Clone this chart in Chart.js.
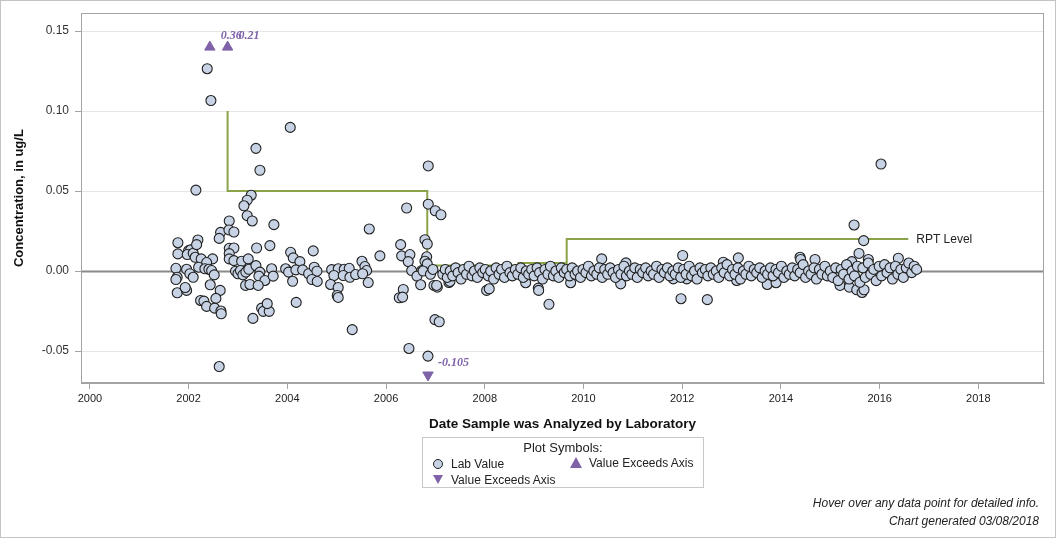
<!DOCTYPE html>
<html>
<head>
<meta charset="utf-8">
<script src="https://cdn.jsdelivr.net/npm/chart.js@4.4.1/dist/chart.umd.min.js"></script>
<style>
  html, body { margin: 0; padding: 0; background: #fff; }
  #wrap { position: relative; width: 1056px; height: 538px; overflow: hidden; font-family: "Liberation Sans", Arial, sans-serif; color: #222; }
  #chart { position: absolute; left: 0; top: 0; }
  .frame { position: absolute; left: 0; top: 0; width: 1056px; height: 538px; box-sizing: border-box; border: 1px solid #c4c4c4; pointer-events: none; }
  .legend { position: absolute; left: 422px; top: 437px; width: 282px; height: 51px; box-sizing: border-box; border: 1px solid #c8c8c8; font-size: 12px; }
  .legend .ttl { position: absolute; left: 0; right: 0; top: 2px; text-align: center; font-size: 13px; }
  .legend .item { position: absolute; height: 14px; line-height: 14px; white-space: nowrap; }
  .circ { position: absolute; left: -18px; top: 2px; width: 8px; height: 8px; border-radius: 50%; background: #c7d3e4; border: 1px solid #1f1f1f; }
  .tri-up { position: absolute; left: -19px; top: 1px; width: 0; height: 0; border-left: 6px solid transparent; border-right: 6px solid transparent; border-bottom: 11px solid #7f62a8; }
  .tri-dn { position: absolute; left: -18px; top: 2px; width: 0; height: 0; border-left: 5px solid transparent; border-right: 5px solid transparent; border-top: 9px solid #7f62a8; }
  .foot { position: absolute; right: 17px; top: 494px; text-align: right; font-style: italic; font-size: 12px; line-height: 18px; }
</style>
</head>
<body>
<div id="wrap">
  <canvas id="chart" width="1056" height="538"></canvas>
  <div class="legend">
    <div class="ttl">Plot Symbols:</div>
    <div class="item" style="left:28px;top:19px"><span class="circ"></span>Lab Value</div>
    <div class="item" style="left:166px;top:18px"><span class="tri-up"></span>Value Exceeds Axis</div>
    <div class="item" style="left:28px;top:35px"><span class="tri-dn"></span>Value Exceeds Axis</div>
  </div>
  <div class="foot">Hover over any data point for detailed info.<br>Chart generated 03/08/2018</div>
  <div class="frame"></div>
</div>
<script>
// lab values 2001-2006, [date, ug/L]
var labEarly = [
  [2001.783, 0.0177], [2001.783, 0.0107], [2001.743, 0.0017], [2001.769, -0.0039], [2001.743, -0.0053],
  [2001.769, -0.0136], [2001.959, -0.0121], [2001.931, -0.0103], [2002.000, 0.0128], [2002.040, 0.0132],
  [2001.972, 0.0103], [2002.093, 0.0111], [2002.134, 0.0086], [2002.255, 0.0076], [2002.486, 0.0076],
  [2002.365, 0.0053], [2002.203, 0.0024], [2002.330, 0.0014], [2002.411, 0.0011], [2002.466, 0.0003],
  [2002.519, -0.0024], [2001.959, 0.0011], [2002.026, -0.0017], [2002.093, -0.0039], [2002.438, -0.0086],
  [2002.640, -0.0121], [2002.553, -0.0171], [2002.243, -0.0184], [2002.310, -0.0188], [2002.365, -0.0221],
  [2002.527, -0.0232], [2002.655, -0.0250], [2002.661, -0.0267], [2002.620, -0.0597], [2002.148, 0.0506],
  [2002.188, 0.0194], [2002.162, 0.0165], [2002.377, 0.1265], [2002.452, 0.1066], [2002.648, 0.0242],
  [2002.620, 0.0204], [2002.823, 0.0313], [2002.817, 0.0257], [2002.918, 0.0244], [2002.823, 0.0142],
  [2002.918, 0.0144], [2002.823, 0.0109], [2002.823, 0.0076], [2002.918, 0.0065], [2003.074, 0.0061],
  [2003.208, 0.0076], [2002.950, -0.0001], [2003.000, -0.0017], [2003.050, 0.0003], [2003.100, -0.0024],
  [2003.160, -0.0007], [2003.220, 0.0011], [2003.268, 0.0474], [2003.187, 0.0443], [2003.121, 0.0408],
  [2003.187, 0.0346], [2003.289, 0.0313], [2003.445, 0.0630], [2003.364, 0.0767], [2003.728, 0.0290],
  [2003.378, 0.0144], [2003.647, 0.0159], [2003.364, 0.0034], [2003.445, -0.0007], [2003.424, -0.0032],
  [2003.546, -0.0059], [2003.682, 0.0014], [2003.714, -0.0032], [2003.155, -0.0090], [2003.242, -0.0084],
  [2003.410, -0.0090], [2003.303, -0.0296], [2003.479, -0.0232], [2003.512, -0.0252], [2003.633, -0.0252],
  [2003.593, -0.0204], [2003.966, 0.0014], [2004.067, 0.0117], [2004.120, 0.0082], [2004.255, 0.0059],
  [2004.026, -0.0007], [2004.174, 0.0007], [2004.107, -0.0064], [2004.180, -0.0196], [2004.310, 0.0007],
  [2004.432, -0.0017], [2004.525, 0.0126], [2004.545, 0.0024], [2004.600, -0.0001], [2004.498, -0.0053],
  [2004.606, -0.0065], [2004.059, 0.0898], [2004.898, 0.0009], [2005.031, 0.0014], [2005.153, 0.0011],
  [2005.254, 0.0017], [2004.944, -0.0028], [2005.133, -0.0028], [2005.268, -0.0039], [2005.384, -0.0022],
  [2004.877, -0.0084], [2005.031, -0.0103], [2005.011, -0.0153], [2005.031, -0.0165], [2005.315, -0.0366],
  [2005.660, 0.0263], [2005.512, 0.0061], [2005.572, 0.0028], [2005.607, 0.0003], [2005.526, -0.0017],
  [2005.639, -0.0072], [2005.876, 0.0095]
];

// lab values 2006-2007
var labMid = [
  [2006.296, 0.0165], [2006.316, 0.0095], [2006.484, 0.0103], [2006.450, 0.0059], [2006.519, 0.0003],
  [2006.721, 0.0003], [2006.626, -0.0032], [2006.701, -0.0086], [2006.349, -0.0115], [2006.268, -0.0167],
  [2006.336, -0.0163], [2006.464, -0.0484], [2006.849, -0.0532], [2006.417, 0.0394], [2006.855, 0.0657],
  [2006.855, 0.0418], [2006.997, 0.0377], [2007.112, 0.0352], [2006.788, 0.0196], [2006.835, 0.0169],
  [2006.823, 0.0089], [2006.788, 0.0061], [2006.835, 0.0045], [2006.971, -0.0090], [2007.038, -0.0101],
  [2007.275, -0.0072], [2006.991, -0.0304], [2007.078, -0.0317], [2006.750, 0.0000], [2006.900, -0.0020],
  [2006.950, 0.0010]
];

// scattered lab values 2007-2016
var labOutliers = [
  [2007.025, -0.0090], [2007.295, -0.0065], [2008.038, -0.0121], [2008.091, -0.0111], [2008.829, -0.0073],
  [2009.084, -0.0107], [2009.092, -0.0121], [2009.301, -0.0208], [2009.740, -0.0073], [2010.369, 0.0076],
  [2010.754, -0.0080], [2010.861, 0.0051], [2011.820, -0.0049], [2011.976, -0.0173], [2012.010, 0.0097],
  [2012.091, -0.0049], [2012.509, -0.0179], [2012.833, 0.0055], [2013.104, -0.0059], [2013.137, 0.0082],
  [2013.724, -0.0084], [2013.901, -0.0073], [2014.387, 0.0086], [2014.400, 0.0072], [2014.691, 0.0072],
  [2015.198, -0.0090], [2015.386, -0.0101], [2015.435, 0.0059], [2015.482, 0.0288], [2015.536, -0.0117],
  [2015.582, 0.0110], [2015.644, -0.0134], [2015.677, 0.0190], [2015.684, -0.0117], [2015.771, 0.0072],
  [2016.028, 0.0669], [2016.379, 0.0080]
];

// dense band of lab values near zero, 2007-2016
var labBand = [
  [2007.15, -0.002], [2007.20, 0.001], [2007.24, -0.004], [2007.30, 0.000], [2007.35, -0.003],
  [2007.41, 0.002], [2007.46, -0.001], [2007.52, -0.005], [2007.57, 0.001], [2007.63, -0.002],
  [2007.68, 0.003], [2007.74, -0.003], [2007.79, 0.000], [2007.85, -0.004], [2007.90, 0.002],
  [2007.96, -0.001], [2008.01, 0.001], [2008.07, -0.003], [2008.12, 0.000], [2008.18, -0.005],
  [2008.23, 0.002], [2008.29, -0.002], [2008.34, 0.001], [2008.40, -0.004], [2008.45, 0.003],
  [2008.51, -0.001], [2008.56, -0.003], [2008.62, 0.001], [2008.67, -0.002], [2008.73, 0.002],
  [2008.78, -0.004], [2008.84, 0.000], [2008.89, -0.002], [2008.95, 0.001], [2009.00, -0.003],
  [2009.06, 0.002], [2009.11, -0.001], [2009.17, -0.005], [2009.22, 0.001], [2009.28, -0.002],
  [2009.33, 0.003], [2009.39, -0.003], [2009.44, 0.000], [2009.50, -0.004], [2009.55, 0.002],
  [2009.61, -0.001], [2009.66, 0.001], [2009.72, -0.003], [2009.77, 0.002], [2009.83, -0.002],
  [2009.88, 0.000], [2009.94, -0.004], [2009.99, 0.001], [2010.05, -0.001], [2010.10, 0.003],
  [2010.16, -0.003], [2010.21, 0.000], [2010.27, -0.002], [2010.32, 0.002], [2010.38, -0.004],
  [2010.43, 0.001], [2010.49, -0.002], [2010.54, 0.002], [2010.60, -0.001], [2010.65, -0.004],
  [2010.71, 0.001], [2010.76, -0.002], [2010.82, 0.003], [2010.87, -0.003], [2010.93, 0.000],
  [2010.98, -0.002], [2011.04, 0.002], [2011.09, -0.004], [2011.15, 0.001], [2011.20, -0.001],
  [2011.26, 0.002], [2011.31, -0.003], [2011.37, 0.000], [2011.42, -0.002], [2011.48, 0.003],
  [2011.53, -0.004], [2011.59, 0.001], [2011.64, -0.001], [2011.70, 0.002], [2011.75, -0.003],
  [2011.81, 0.000], [2011.86, -0.002], [2011.92, 0.002], [2011.97, -0.004], [2012.03, 0.001],
  [2012.08, -0.002], [2012.14, 0.003], [2012.19, -0.003], [2012.25, 0.000], [2012.30, -0.005],
  [2012.36, 0.002], [2012.41, -0.001], [2012.47, 0.001], [2012.52, -0.003], [2012.58, 0.002],
  [2012.63, -0.002], [2012.69, 0.000], [2012.74, -0.004], [2012.80, 0.002], [2012.85, -0.001],
  [2012.91, 0.004], [2012.96, -0.003], [2013.02, 0.001], [2013.07, -0.002], [2013.13, 0.002],
  [2013.18, -0.005], [2013.24, 0.000], [2013.29, -0.002], [2013.35, 0.003], [2013.40, -0.003],
  [2013.46, 0.001], [2013.51, -0.001], [2013.57, 0.002], [2013.62, -0.004], [2013.68, 0.000],
  [2013.73, -0.002], [2013.79, 0.002], [2013.84, -0.003], [2013.90, 0.001], [2013.95, -0.001],
  [2014.01, 0.003], [2014.06, -0.004], [2014.12, 0.000], [2014.17, -0.002], [2014.23, 0.002],
  [2014.28, -0.003], [2014.34, 0.001], [2014.39, -0.001], [2014.45, 0.004], [2014.50, -0.004],
  [2014.56, 0.000], [2014.61, -0.002], [2014.67, 0.002], [2014.72, -0.005], [2014.78, 0.001],
  [2014.83, -0.002], [2014.89, 0.003], [2014.94, -0.003], [2015.00, 0.000], [2015.05, -0.004],
  [2015.11, 0.002], [2015.16, -0.006], [2015.22, 0.001], [2015.27, -0.002], [2015.33, 0.004],
  [2015.38, -0.005], [2015.44, 0.000], [2015.49, -0.003], [2015.55, 0.003], [2015.60, -0.007],
  [2015.66, 0.002], [2015.71, -0.004], [2015.77, 0.005], [2015.82, -0.002], [2015.88, 0.001],
  [2015.93, -0.006], [2015.99, 0.003], [2016.04, -0.003], [2016.10, 0.004], [2016.15, -0.001],
  [2016.21, 0.002], [2016.26, -0.005], [2016.32, 0.003], [2016.37, -0.002], [2016.43, 0.001],
  [2016.48, -0.004], [2016.54, 0.002], [2016.59, 0.005], [2016.65, -0.001], [2016.70, 0.003],
  [2016.75, 0.001]
];

// values beyond the axis: drawn at the axis limit marker, real value as label
var exceedUpDates = [2002.43, 2002.79];
var exceedUpPlot = [0.14, 0.14];
var exceedUpLabels = ['0.36', '0.21'];
var exceedDownDates = [2006.85];
var exceedDownPlot = [-0.065];
var exceedDownLabels = ['-0.105'];

// reporting level steps
var rptDates = [2002.79, 2006.835, 2008.68, 2009.66, 2013.68, 2016.58];
var rptLevels = [0.10, 0.05, 0.0035, 0.005, 0.02, 0.02];

var xTicks = [2000, 2002, 2004, 2006, 2008, 2010, 2012, 2014, 2016, 2018];
var yTicks = [-0.05, 0.00, 0.05, 0.10, 0.15];

var PURPLE = '#7f62a8';

function pts(list) {
  return list.map(function(p) { return { x: p[0], y: p[1] }; });
}
function zipPts(xs, ys) {
  return xs.map(function(x, i) { return { x: x, y: ys[i] }; });
}

var labData = pts(labEarly).concat(pts(labMid), pts(labOutliers), pts(labBand));

var extras = {
  id: 'extras',
  beforeDatasetsDraw: function(chart) {
    var ctx = chart.ctx, a = chart.chartArea, y = chart.scales.y;
    var y0 = Math.round(y.getPixelForValue(0)) + 0.5;
    ctx.save();
    ctx.strokeStyle = '#8a8a8a';
    ctx.lineWidth = 2;
    ctx.beginPath(); ctx.moveTo(a.left, y0); ctx.lineTo(a.right, y0); ctx.stroke();
    ctx.restore();
  },
  afterDatasetsDraw: function(chart) {
    var ctx = chart.ctx, a = chart.chartArea;
    ctx.save();
    // exceed labels
    ctx.font = 'italic bold 12px "Liberation Serif", serif';
    ctx.fillStyle = PURPLE;
    ctx.textAlign = 'left';
    ctx.textBaseline = 'middle';
    chart.getDatasetMeta(2).data.forEach(function(el, i) {
      ctx.fillText(exceedUpLabels[i], el.x + 11, el.y - 11);
    });
    chart.getDatasetMeta(3).data.forEach(function(el, i) {
      ctx.fillText(exceedDownLabels[i], el.x + 10, el.y - 12);
    });
    // RPT label at end of step line
    var rpt = chart.getDatasetMeta(0).data;
    var last = rpt[rpt.length - 1];
    ctx.font = '12px "Liberation Sans", Arial, sans-serif';
    ctx.fillStyle = '#222';
    ctx.fillText('RPT Level', last.x + 8, last.y + 1);
    // frame
    ctx.strokeStyle = '#a3a3a3';
    ctx.lineWidth = 1;
    ctx.strokeRect(Math.round(a.left) + 0.5, Math.round(a.top) + 0.5, Math.round(a.right - a.left) - 1, Math.round(a.bottom - a.top) - 1);
    ctx.restore();
  }
};

new Chart(document.getElementById('chart').getContext('2d'), {
  type: 'scatter',
  data: {
    datasets: [
      { type: 'line', label: 'RPT Level', data: zipPts(rptDates, rptLevels), stepped: 'after',
        borderColor: '#8aa348', borderWidth: 2, pointRadius: 0, fill: false, order: 3 },
      { label: 'Lab Value', data: labData, backgroundColor: '#c7d3e4', borderColor: '#1f1f1f',
        borderWidth: 1.1, pointRadius: 5, order: 2 },
      { label: 'Value Exceeds Axis', data: zipPts(exceedUpDates, exceedUpPlot), pointStyle: 'triangle',
        backgroundColor: PURPLE, borderColor: PURPLE, borderWidth: 1, pointRadius: 6, order: 1 },
      { label: 'Value Exceeds Axis', data: zipPts(exceedDownDates, exceedDownPlot), pointStyle: 'triangle',
        rotation: 180, backgroundColor: PURPLE, borderColor: PURPLE, borderWidth: 1, pointRadius: 6, order: 1 }
    ]
  },
  options: {
    responsive: false,
    animation: false,
    layout: { padding: { top: 12, right: 12, bottom: 102, left: 0 } },
    plugins: { legend: { display: false }, tooltip: { enabled: true } },
    scales: {
      x: {
        type: 'linear', min: 1999.82, max: 2019.33,
        afterFit: function(s) { s.height = 53; },
        afterBuildTicks: function(s) { s.ticks = xTicks.map(function(v) { return { value: v }; }); },
        ticks: { padding: 3, color: '#222', font: { family: '"Liberation Sans Narrow", "Liberation Sans", Arial', size: 11 },
          callback: function(v) { return String(v); } },
        grid: { drawOnChartArea: false, tickLength: 6, tickColor: '#a3a3a3' },
        border: { color: '#a3a3a3' },
        title: { display: true, text: 'Date Sample was Analyzed by Laboratory', color: '#111',
          font: { family: '"Liberation Sans Narrow", "Liberation Sans", Arial', size: 13.5, weight: 'bold' }, padding: { top: 4, bottom: 4 } }
      },
      y: {
        min: -0.07, max: 0.1612,
        afterFit: function(s) { s.width = 81; },
        afterBuildTicks: function(s) { s.ticks = yTicks.map(function(v) { return { value: v }; }); },
        ticks: { padding: 6, color: '#333', font: { family: '"Liberation Sans", Arial', size: 12 },
          callback: function(v) { return v.toFixed(2); } },
        grid: { color: '#e6e6e6', tickLength: 6, tickColor: '#a3a3a3' },
        border: { color: '#a3a3a3' },
        title: { display: true, text: 'Concentration, in ug/L', color: '#111',
          font: { family: '"Liberation Sans", Arial', size: 13, weight: 'bold' }, padding: { top: 12, bottom: 4 } }
      }
    }
  },
  plugins: [extras]
});
</script>
</body>
</html>
